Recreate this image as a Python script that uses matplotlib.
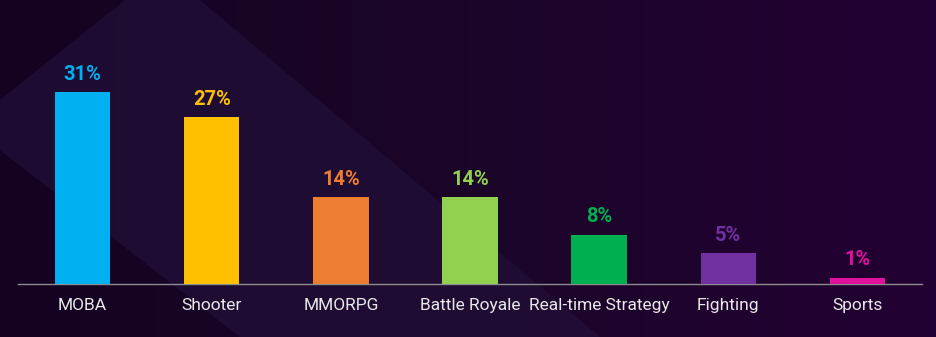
import numpy as np
import matplotlib.pyplot as plt
from matplotlib.patches import Polygon

genres = ["MOBA", "Shooter", "MMORPG", "Battle Royale", "Real-time Strategy", "Fighting", "Sports"]
shares = [31, 27, 14, 14, 8, 5, 1]
colors = ["#00b0f0", "#ffc000", "#ed7d31", "#92d050", "#00b050", "#7030a0", "#e0119d"]

W, H = 936, 337
fig = plt.figure(figsize=(W / 100, H / 100), dpi=100)

# background: dark purple gradient with a lighter diagonal stroke
bg = fig.add_axes([0, 0, 1, 1])
bg.set_xlim(0, W)
bg.set_ylim(H, 0)
bg.axis("off")
grad = np.linspace(0, 1, 256)[None, :]
cmap = plt.matplotlib.colors.LinearSegmentedColormap.from_list(
    "bgc", ["#150222", "#1b0629", "#230033"])
bg.imshow(grad, extent=[0, W, H, 0], aspect="auto", cmap=cmap, zorder=0)
bg.add_patch(Polygon([(125, 0), (200, 0), (600, H), (240, H), (0, 150), (0, 100)],
                     closed=True, facecolor="#221038", alpha=0.7, lw=0, zorder=1))

ax = fig.add_axes([18 / W, 53 / H, 904 / W, 284 / H])
ax.patch.set_alpha(0)
x = np.arange(len(genres))
bars = ax.bar(x, shares, width=0.43, color=colors, zorder=3)
ax.set_xlim(-0.5, 6.5)
ax.set_ylim(0, 45.9)

for b, v, c in zip(bars, shares, colors):
    ax.annotate(f"{v}%", (b.get_x() + b.get_width() / 2, v), xytext=(0, 6),
                textcoords="offset points", ha="center", va="bottom",
                color=c, fontsize=14.5, fontweight="bold", family="Roboto")

for s in ["top", "right", "left"]:
    ax.spines[s].set_visible(False)
ax.spines["bottom"].set_color("#8c8c8c")
ax.spines["bottom"].set_linewidth(1)
ax.set_yticks([])
ax.set_xticks(x)
ax.set_xticklabels(genres, color="#e8e8e8", fontsize=12.5, family="Roboto")
ax.tick_params(axis="x", length=0, pad=10)

fig.savefig("out.png", dpi=100)
